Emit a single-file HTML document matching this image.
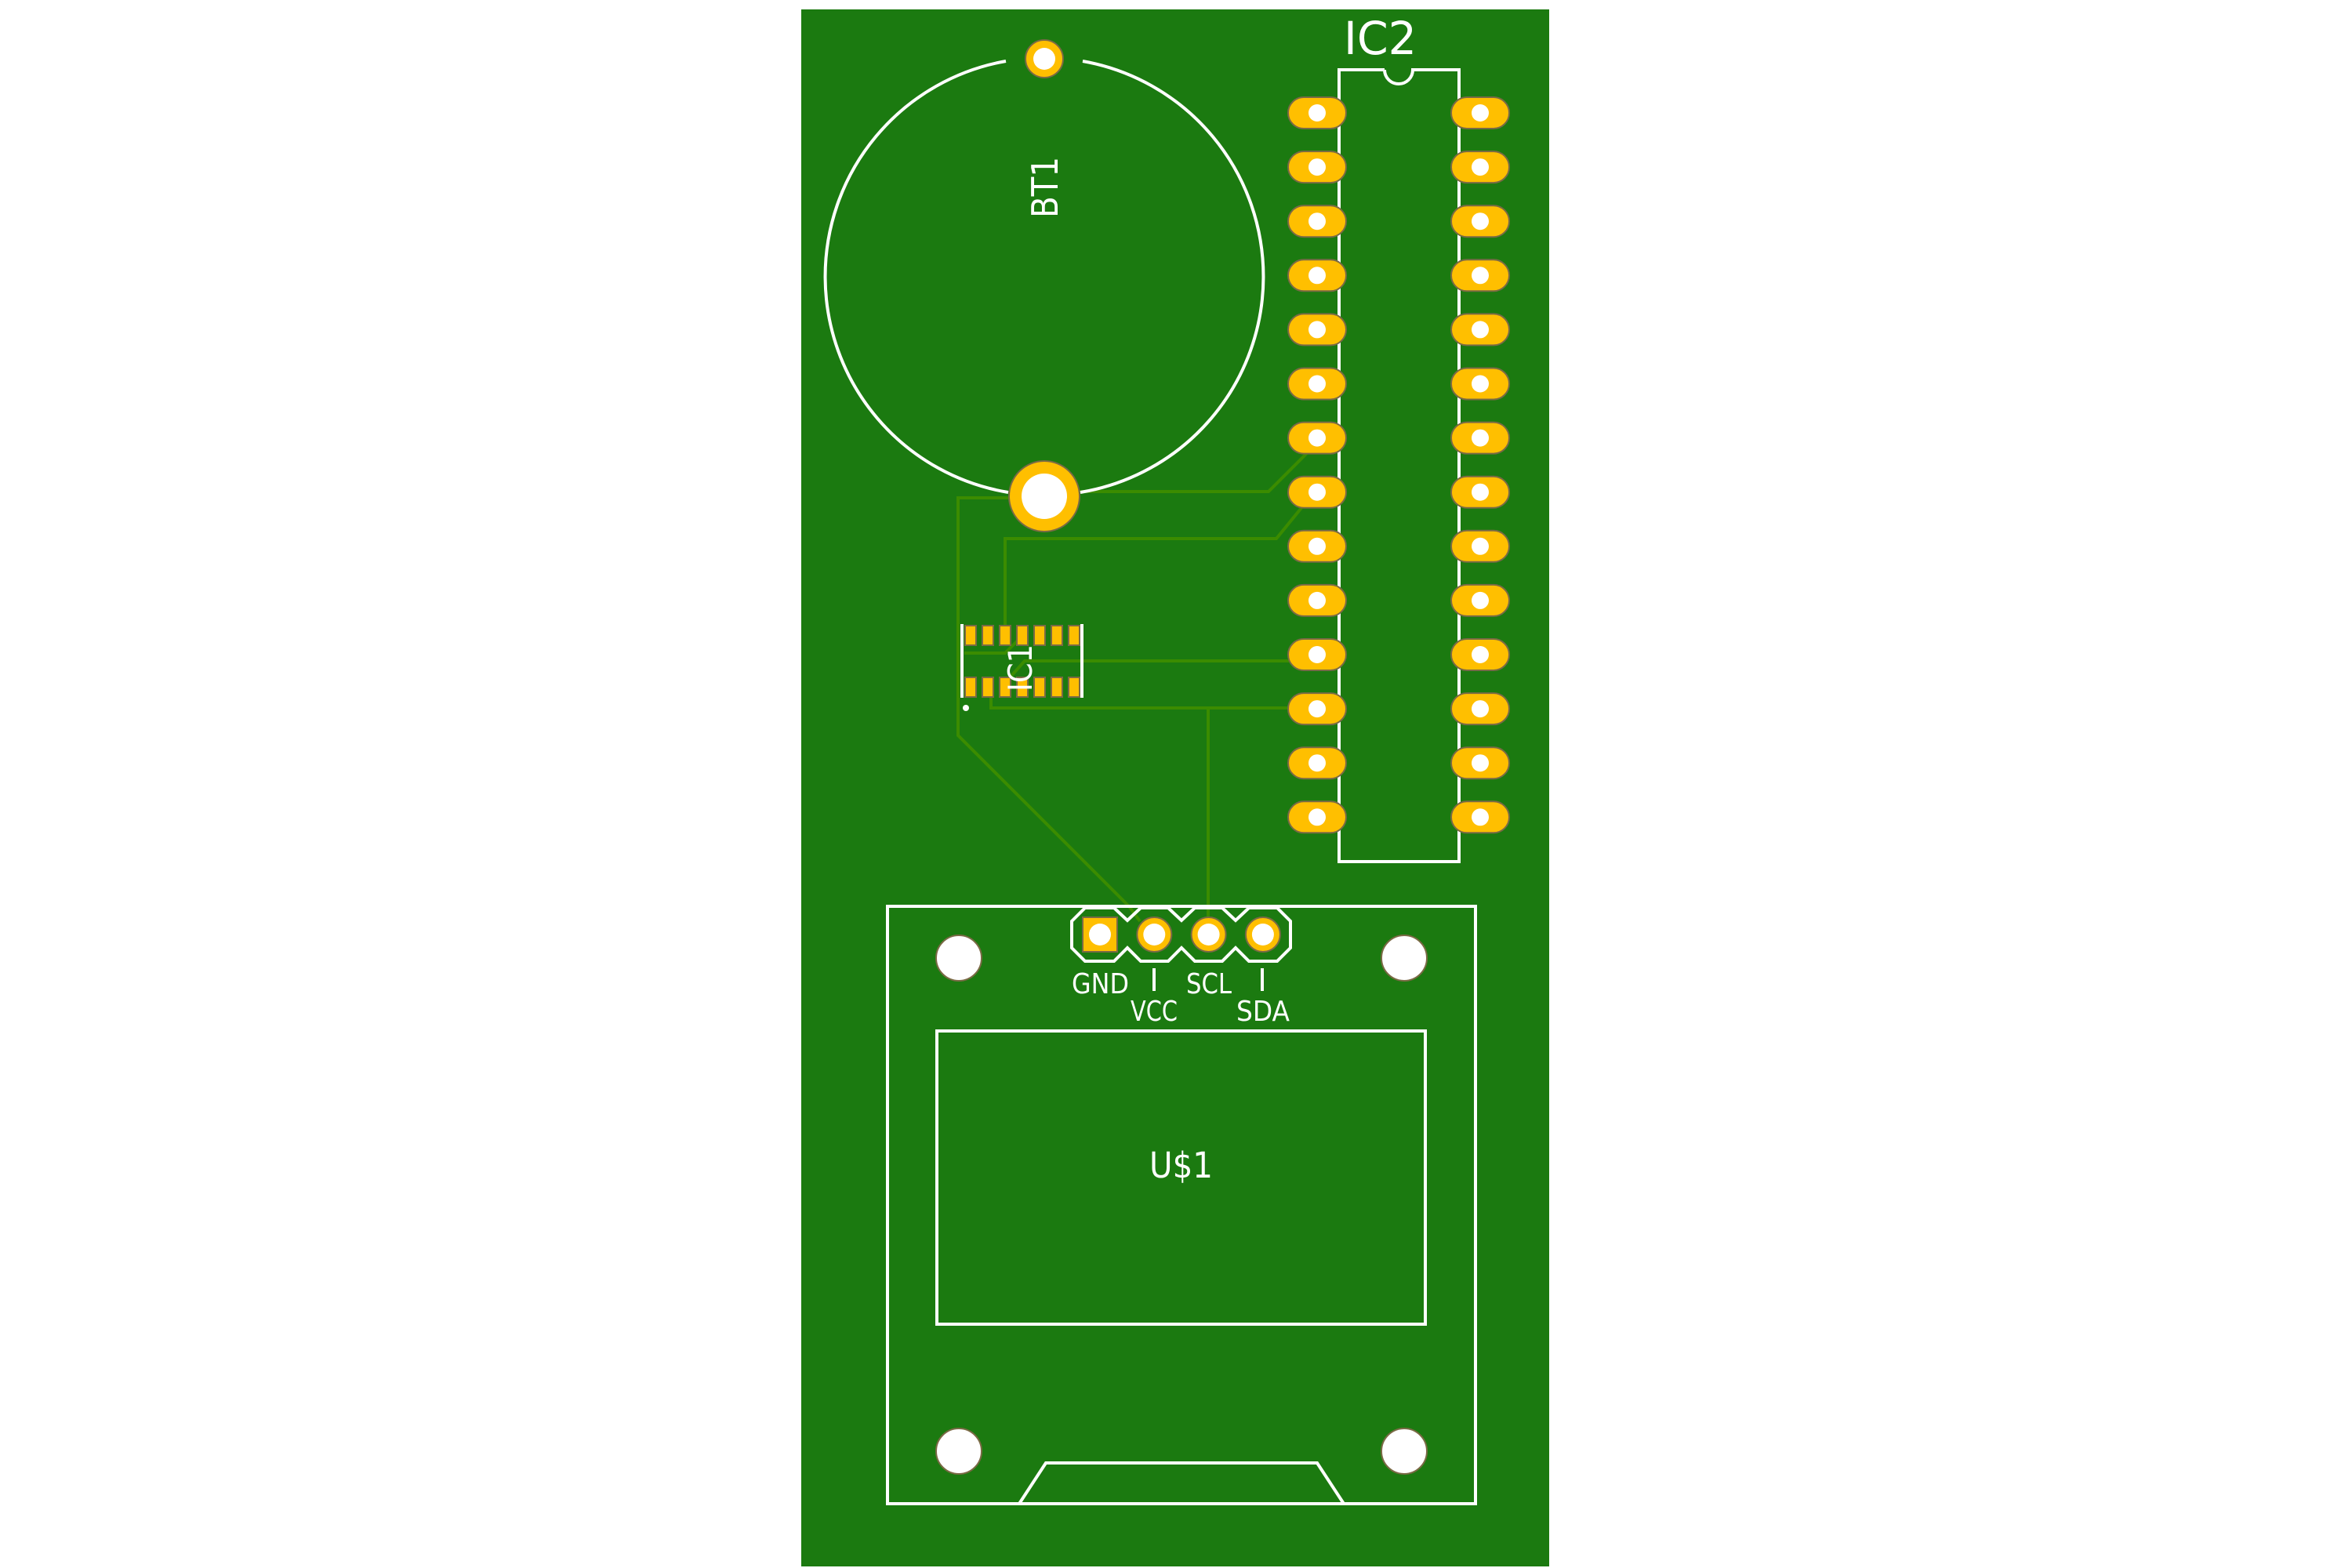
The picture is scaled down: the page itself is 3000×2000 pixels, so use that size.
<!DOCTYPE html>
<html><head><meta charset="utf-8"><style>
html,body{margin:0;padding:0;background:#fff;width:3000px;height:2000px;overflow:hidden}
svg{display:block}
text{font-family:"DejaVu Sans","Liberation Sans",sans-serif;fill:#fff}
</style></head><body>
<svg id="pcb" width="3000" height="2000" viewBox="0 0 3000 2000" xmlns="http://www.w3.org/2000/svg">
<rect x="1022" y="12" width="954" height="1986" fill="#1b7a10"/>
<g id="traces" fill="none" stroke="#3b8c00" stroke-width="4">
<polyline points="1370,627 1618,627 1686,559"/>
<polyline points="1290,635 1222,635 1222,938 1440,1156 1454,1175"/>
<polyline points="1672,633 1628,687 1282,687 1282,800"/>
<polyline points="1230,833 1282,833 1297,818 1304,810"/>
<polyline points="1680,843 1307,843 1290,862"/>
<polyline points="1260,870 1264,875 1264,903 1680,903"/>
<polyline points="1541,903 1541,1175"/>
</g>
<g id="silk" fill="none" stroke="#fff" stroke-width="4">
<path d="M1283,78 A279,279 0 0 0 1286,628"/>
<path d="M1381,78 A279,279 0 0 1 1378,628"/>
<path d="M1766,89 L1708,89 L1708,1099 L1861,1099 L1861,89 L1802,89 A18,18 0 0 1 1766,89"/>
<line x1="1227" y1="796" x2="1227" y2="890"/>
<line x1="1380" y1="796" x2="1380" y2="890"/>
<rect x="1132" y="1156" width="750" height="762"/>
<rect x="1195" y="1315" width="623" height="374"/>
<polyline points="1300,1918 1334,1866 1680,1866 1714,1918"/>
<path d="M1367,1175 L1384,1158 L1421,1158 L1438,1174 L1455,1158 L1490,1158 L1507,1174 L1524,1158 L1559,1158 L1576,1174 L1593,1158 L1629,1158 L1646,1175 L1646,1209 L1629,1226 L1593,1226 L1576,1209 L1559,1226 L1524,1226 L1507,1209 L1490,1226 L1455,1226 L1438,1209 L1421,1226 L1384,1226 L1367,1209 Z"/>
<line x1="1472" y1="1235" x2="1472" y2="1264"/>
<line x1="1610" y1="1235" x2="1610" y2="1264"/>
</g>
<circle cx="1232" cy="903" r="4" fill="#fff"/>
<g id="pads"></g>
<g id="holes"></g>
<text x="1714" y="69" font-size="58" textLength="93" lengthAdjust="spacingAndGlyphs">IC2</text>
<text transform="translate(1349,239) rotate(-90)" text-anchor="middle" font-size="46" textLength="78" lengthAdjust="spacingAndGlyphs">BT1</text>
<text transform="translate(1316,852) rotate(-90)" text-anchor="middle" font-size="42" textLength="60" lengthAdjust="spacingAndGlyphs">IC1</text>
<text x="1367" y="1267" font-size="36" textLength="73" lengthAdjust="spacingAndGlyphs">GND</text>
<text x="1442" y="1302" font-size="36" textLength="60" lengthAdjust="spacingAndGlyphs">VCC</text>
<text x="1513" y="1267" font-size="36" textLength="58" lengthAdjust="spacingAndGlyphs">SCL</text>
<text x="1577" y="1302" font-size="36" textLength="68" lengthAdjust="spacingAndGlyphs">SDA</text>
<text x="1466" y="1502" font-size="45" textLength="81" lengthAdjust="spacingAndGlyphs">U$1</text>
</svg>
<script>
const NS='http://www.w3.org/2000/svg';
const dipRows=[0,1,2,3,4,5,6,7,8,9,10,11,12,13];
const soicCols=[0,1,2,3,4,5,6];
const headerPins=['GND','VCC','SCL','SDA'];
const holePos=[[1223,1222],[1791,1222],[1223,1851],[1791,1851]];
const pads=document.getElementById('pads');
function mk(tag,attrs,parent){const e=document.createElementNS(NS,tag);for(const k in attrs)e.setAttribute(k,attrs[k]);parent.appendChild(e);return e;}
const padFill='#ffbf00',padStroke='#7a6a45';
dipRows.forEach(i=>{
  const y=144+i*69.1;
  [1680,1888].forEach((x,side)=>{
    const r=mk('rect',{x:x-37,y:y-20,width:74,height:40,rx:20,fill:padFill,stroke:padStroke,'stroke-width':2},pads);
    
    
    const h=mk('circle',{cx:x,cy:y,r:11,fill:'#fff'},pads);
    
    
  });
});
soicCols.forEach(i=>{
  const x=1238+i*22;
  [798,864].forEach(y=>{
    const r=mk('rect',{x:x-7,y:y,width:14,height:25,fill:padFill,stroke:padStroke,'stroke-width':2},pads);
    
    
  });
});
[[1332,75,24,14],[1332,633,45,29]].forEach(p=>{
  const c=mk('circle',{cx:p[0],cy:p[1],r:p[2],fill:padFill,stroke:padStroke,'stroke-width':2},pads);
  
  
  const h=mk('circle',{cx:p[0],cy:p[1],r:p[3],fill:'#fff'},pads);
  
  
});
headerPins.forEach((n,i)=>{
  const x=1403+i*69.3,y=1192;
  let e;
  if(i===0){e=mk('rect',{x:x-22,y:y-22,width:44,height:44,fill:padFill,stroke:padStroke,'stroke-width':2},pads);}
  else{e=mk('circle',{cx:x,cy:y,r:22,fill:padFill,stroke:padStroke,'stroke-width':2},pads);}
  
  
  const h=mk('circle',{cx:x,cy:y,r:14,fill:'#fff'},pads);
  
  
});
const holes=document.getElementById('holes');
holePos.forEach(p=>{
  const h=mk('circle',{cx:p[0],cy:p[1],r:29,fill:'#fff',stroke:padStroke,'stroke-width':2},holes);
  
  
});
</script>
</body></html>
